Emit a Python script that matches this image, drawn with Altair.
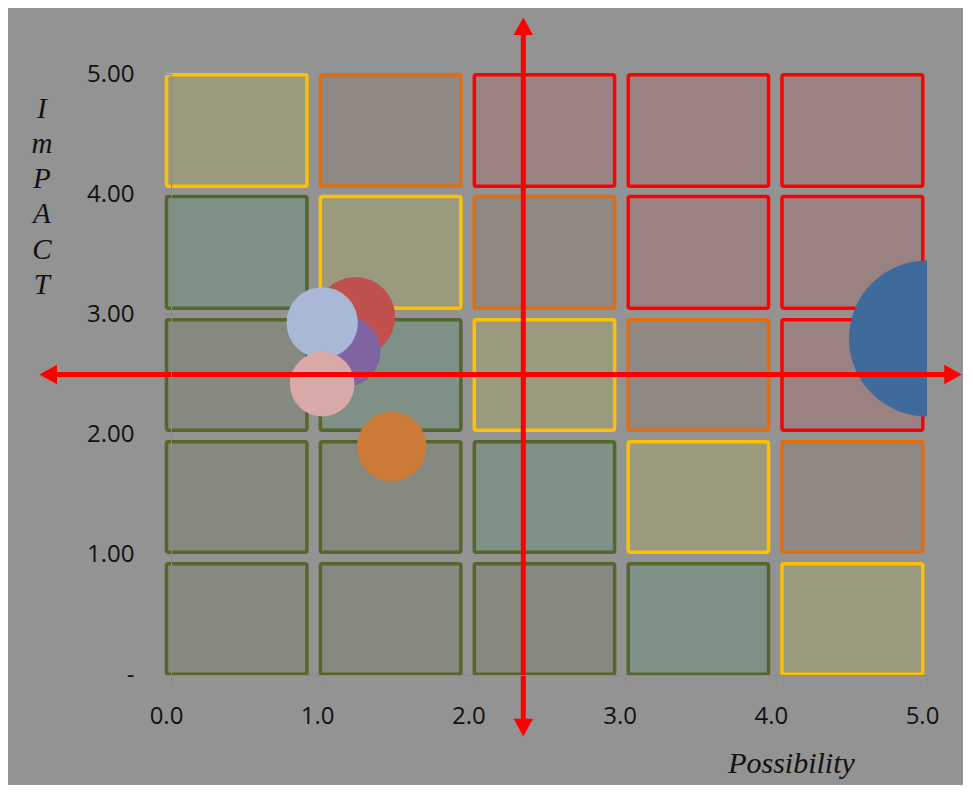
import altair as alt
import pandas as pd

# ---- risk matrix cells (data units) ----
col_left = [-0.03, 0.988, 2.006, 3.024, 4.041]
col_right = [0.899, 1.917, 2.934, 3.952, 4.972]
row_bottom = [0.006, 1.021, 2.036, 3.051, 4.066]   # impact rows 1..5
row_top = [0.926, 1.941, 2.955, 3.981, 4.994]
cell_levels = [  # impact row 1 (bottom) .. 5 (top); possibility columns 1..5
    ["Low", "Low", "Low", "Moderate", "Medium"],
    ["Low", "Low", "Moderate", "Medium", "High"],
    ["Low", "Moderate", "Medium", "High", "Critical"],
    ["Moderate", "Medium", "High", "Critical", "Critical"],
    ["Medium", "High", "Critical", "Critical", "Critical"],
]
level_names = ["Low", "Moderate", "Medium", "High", "Critical"]
level_fill = ["#86897F", "#7F9187", "#9A9A7F", "#908882", "#9B8282"]
level_stroke = ["#546629", "#546629", "#FFC000", "#E46C0A", "#FF0000"]

# ---- risks (bubbles) ----
risk_names = ["Risk A", "Risk B", "Risk C", "Risk D", "Risk E", "Risk F"]
risk_possibility = [1.22, 1.15, 1.00, 1.00, 1.46, 5.00]
risk_impact = [2.98, 2.69, 2.93, 2.42, 1.90, 2.80]
risk_size = [1.51, 1.21, 1.22, 1.00, 1.16, 5.83]
risk_colors = ["#C0504D", "#8064A2", "#A9B8D6", "#D9A9A8", "#CB7A37", "#3F6A9C"]

# ---- threshold arrows ----
x_threshold = 2.33
y_threshold = 2.5
v_arrow_ends = [-0.51, 5.47]
h_arrow_ends = [-0.87, 5.23]

cells = []
for r in range(5):
    for c in range(5):
        cells.append({"x0": col_left[c], "x1": col_right[c],
                      "y0": row_bottom[r], "y1": row_top[r],
                      "level": cell_levels[r][c]})
cells_df = pd.DataFrame(cells)

risks_df = pd.DataFrame({"name": risk_names, "x": risk_possibility,
                         "y": risk_impact, "size": risk_size,
                         "order": list(range(len(risk_names)))})

xs = alt.Scale(domain=[0, 5], nice=False, zero=False)
ys = alt.Scale(domain=[0, 5], nice=False, zero=False)

x_axis = alt.Axis(values=[0, 1, 2, 3, 4, 5], format=".1f", grid=False,
                  labelFont="Open Sans", labelFontSize=24, labelColor="#111111",
                  labelPadding=21, labelOffset=-5, labelFlush=False, tickSize=8,
                  tickColor="#8a8a8a", domainColor="#8a8a8a", title="Possibility",
                  titleFont="Liberation Serif", titleFontStyle="italic",
                  titleFontWeight="normal", titleFontSize=30, titleColor="#111111",
                  titleX=620, titleY=97, titleAlign="center",
                  titleBaseline="alphabetic", zindex=1)
y_axis = alt.Axis(values=[0, 1, 2, 3, 4, 5],
                  labelExpr="datum.value == 0 ? '-' : format(datum.value, '.2f')",
                  grid=False, labelFont="Open Sans", labelFontSize=24, labelFlush=False,
                  labelColor="#111111", labelPadding=31, tickSize=6,
                  tickColor="#8a8a8a", domainColor="#8a8a8a",
                  title=["I", "m", "P", "A", "C", "T"], titleAngle=0,
                  titleX=-129.6, titleY=43.3, titleAlign="center",
                  titleBaseline="alphabetic", titleLineHeight=35.2,
                  titleFont="Liberation Serif", titleFontStyle="italic",
                  titleFontWeight="normal", titleFontSize=29, titleColor="#111111",
                  zindex=1)

cell_layer = alt.Chart(cells_df).mark_rect(strokeWidth=3.5, cornerRadius=2, opacity=1).encode(
    x=alt.X("x0:Q", scale=xs, axis=x_axis),
    x2="x1:Q",
    y=alt.Y("y0:Q", scale=ys, axis=y_axis),
    y2="y1:Q",
    fill=alt.Fill("level:N", scale=alt.Scale(domain=level_names, range=level_fill), legend=None),
    stroke=alt.Stroke("level:N", scale=alt.Scale(domain=level_names, range=level_stroke), legend=None),
)

bubble_layer = alt.Chart(risks_df).mark_circle(opacity=1, clip=True).encode(
    x=alt.X("x:Q", scale=xs),
    y=alt.Y("y:Q", scale=ys),
    size=alt.Size("size:Q", scale=alt.Scale(domain=[0, 6], range=[0, 25038]), legend=None),
    color=alt.Color("name:N", scale=alt.Scale(domain=risk_names, range=risk_colors), legend=None),
    order=alt.Order("order:Q"),
)

# arrow shafts (slightly shortened so the heads cover the ends)
shafts_df = pd.DataFrame({
    "x": [x_threshold, h_arrow_ends[0] + 0.06],
    "x2": [x_threshold, h_arrow_ends[1] - 0.06],
    "y": [v_arrow_ends[0] + 0.07, y_threshold],
    "y2": [v_arrow_ends[1] - 0.07, y_threshold],
})
shaft_layer = alt.Chart(shafts_df).mark_rule(color="#FF0000", strokeWidth=5).encode(
    x=alt.X("x:Q", scale=xs), x2="x2:Q",
    y=alt.Y("y:Q", scale=ys), y2="y2:Q",
)

heads_df = pd.DataFrame({
    "x": [x_threshold, x_threshold, h_arrow_ends[0], h_arrow_ends[1]],
    "y": [v_arrow_ends[0], v_arrow_ends[1], y_threshold, y_threshold],
    "dir": ["down", "up", "left", "right"],
})
head_paths = ["M0,0L-1,-1.8L1,-1.8Z", "M0,0L-1,1.8L1,1.8Z",
              "M0,0L1.8,-1L1.8,1Z", "M0,0L-1.8,-1L-1.8,1Z"]
head_layer = alt.Chart(heads_df).mark_point(filled=True, size=380, color="#FF0000",
                                            opacity=1, strokeWidth=0).encode(
    x=alt.X("x:Q", scale=xs),
    y=alt.Y("y:Q", scale=ys),
    shape=alt.Shape("dir:N", scale=alt.Scale(domain=["down", "up", "left", "right"],
                                             range=head_paths), legend=None),
)

chart = alt.layer(cell_layer, bubble_layer, shaft_layer, head_layer).properties(
    width=756, height=601,
    autosize=alt.AutoSizeParams(type="none"),
    padding={"left": 163, "top": 66, "right": 36, "bottom": 110},
    background="#939393",
).configure_view(stroke=None)

chart.save("out.html", embed_options={"renderer": "svg", "actions": False})
